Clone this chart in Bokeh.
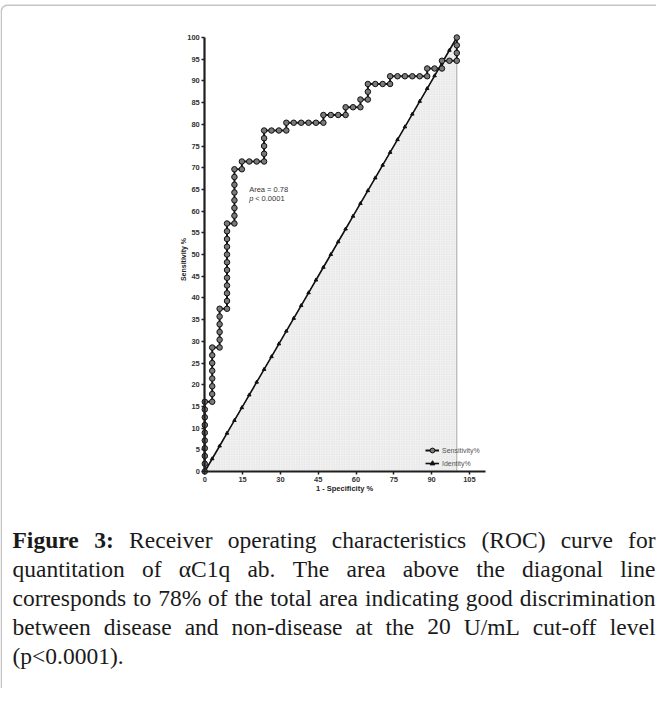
import math
from bokeh.plotting import figure
from bokeh.models import Label, BoxAnnotation, Legend, LegendItem, FixedTicker
from bokeh.embed import file_html
from bokeh.resources import INLINE

# ---------------- data ----------------
fpr = [
    0, 0, 0, 0, 0, 0, 0, 0, 0, 0,
    2.94, 2.94, 2.94, 2.94, 2.94, 2.94, 2.94, 2.94,
    5.88, 5.88, 5.88, 5.88, 5.88, 5.88,
    8.82, 8.82, 8.82, 8.82, 8.82, 8.82, 8.82, 8.82, 8.82, 8.82, 8.82, 8.82,
    11.76, 11.76, 11.76, 11.76, 11.76, 11.76, 11.76, 11.76,
    14.71, 14.71,
    17.65, 20.59, 23.53, 23.53, 23.53, 23.53, 23.53,
    26.47, 29.41, 32.35, 32.35,
    35.29, 38.24, 41.18, 44.12, 47.06, 47.06,
    50.00, 52.94, 55.88, 55.88,
    58.82, 61.76, 61.76,
    64.71, 64.71, 64.71,
    67.65, 70.59, 73.53, 73.53,
    76.47, 79.41, 82.35, 85.29, 88.24, 88.24,
    91.18, 94.12, 94.12,
    97.06, 100, 100, 100, 100,
]
sensitivity = [
    0, 1.79, 3.57, 5.36, 7.14, 8.93, 10.71, 12.50, 14.29, 16.07,
    16.07, 17.86, 19.64, 21.43, 23.21, 25.00, 26.79, 28.57,
    28.57, 30.36, 32.14, 33.93, 35.71, 37.50,
    37.50, 39.29, 41.07, 42.86, 44.64, 46.43, 48.21, 50.00, 51.79, 53.57, 55.36, 57.14,
    57.14, 58.93, 60.71, 62.50, 64.29, 66.07, 67.86, 69.64,
    69.64, 71.43,
    71.43, 71.43, 71.43, 73.21, 75.00, 76.79, 78.57,
    78.57, 78.57, 78.57, 80.36,
    80.36, 80.36, 80.36, 80.36, 80.36, 82.14,
    82.14, 82.14, 82.14, 83.93,
    83.93, 83.93, 85.71,
    85.71, 87.50, 89.29,
    89.29, 89.29, 89.29, 91.07,
    91.07, 91.07, 91.07, 91.07, 91.07, 92.86,
    92.86, 92.86, 94.64,
    94.64, 94.64, 96.43, 98.21, 100,
]
identity = [0, 2.94, 5.88, 8.82, 11.76, 14.71, 17.65, 20.59, 23.53, 26.47, 29.41,
            32.35, 35.29, 38.24, 41.18, 44.12, 47.06, 50, 52.94, 55.88, 58.82,
            61.76, 64.71, 67.65, 70.59, 73.53, 76.47, 79.41, 82.35, 85.29, 88.24,
            91.18, 94.12, 97.06, 100]
shade_x = [0, 100, 100]
shade_y = [0, 100, 0]
x_ticks = [0, 15, 30, 45, 60, 75, 90, 105]
y_ticks = [0, 5, 10, 15, 20, 25, 30, 35, 40, 45, 50, 55, 60, 65, 70, 75, 80, 85, 90, 95, 100]
series_labels = ["Sensitivity%", "Identity%"]
x_title = "1 - Specificity %"
y_title = "Sensitivity %"
area_text = "Area = 0.78"
p_label = "p"
p_value_text = "< 0.0001"
caption_lines = [
    [("Figure", True), ("3:", True), ("Receiver", False), ("operating", False),
     ("characteristics", False), ("(ROC)", False), ("curve", False), ("for", False)],
    [(w, False) for w in "quantitation of αC1q ab. The area above the diagonal line".split()],
    [(w, False) for w in "corresponds to 78% of the total area indicating good discrimination".split()],
    [(w, False) for w in "between disease and non-disease at the 20 U/mL cut-off level".split()],
    [(w, False) for w in "(p<0.0001).".split()],
]

# ---------------- layout (pixels on the canvas) ----------------
W, H = 656, 688
ORIGIN_X, ORIGIN_Y = 204.3, 217.0      # canvas px of data (0,0), y from bottom
PX_X, PX_Y = 2.52, 4.34               # px per data unit
x_start = -ORIGIN_X / PX_X
y_start = -ORIGIN_Y / PX_Y

p = figure(width=W, height=H, output_backend="svg", toolbar_location=None,
           x_range=(x_start, x_start + W / PX_X), y_range=(y_start, y_start + H / PX_Y),
           min_border=0)
p.grid.visible = False
p.outline_line_color = None
p.background_fill_color = "white"
p.border_fill_color = "white"

# shaded area under diagonal
p.patch(shade_x, shade_y, fill_color="#f1f1f1", line_color="#a8a8a8", line_width=1,
        hatch_pattern="dot", hatch_color="#dadada", hatch_scale=2.5, hatch_weight=0.7)

id_line = p.line(identity, identity, line_color="#111111", line_width=1.6)
id_pts = p.scatter(identity, identity, marker="triangle", size=3.5,
                   fill_color="#111111", line_color="#111111")
roc_line = p.line(fpr, sensitivity, line_color="#111111", line_width=2.0)
roc_pts = p.scatter(fpr, sensitivity, marker="circle", size=5.5,
                    fill_color="#7a7a7a", line_color="#111111", line_width=1.0)

# axes
for ax, ticks, bounds in ((p.xaxis[0], x_ticks, (0, 111.5)), (p.yaxis[0], y_ticks, (0, 100))):
    ax.fixed_location = 0
    ax.bounds = bounds
    ax.ticker = FixedTicker(ticks=ticks)
    ax.minor_tick_line_color = None
    ax.axis_line_width = 2.2
    ax.axis_line_color = "#1e1e1e"
    ax.major_tick_line_width = 1.5
    ax.major_tick_line_color = "#1e1e1e"
    ax.major_tick_out = 3
    ax.major_tick_in = 0
    ax.major_label_standoff = 2
    ax.major_label_text_font = "Liberation Sans"
    ax.major_label_text_font_style = "bold"
    ax.major_label_text_font_size = "7.5px"
    ax.major_label_text_color = "#333333"

# axis titles (canvas coords)
p.add_layout(Label(x=344, y=488, x_units="canvas", y_units="canvas", text=x_title,
                   text_align="center", text_baseline="middle",
                   text_font="Liberation Sans", text_font_style="bold",
                   text_font_size="7.5px", text_color="#222222"))
p.add_layout(Label(x=183, y=259, x_units="canvas", y_units="canvas", text=y_title,
                   angle=math.pi / 2, text_align="center", text_baseline="middle",
                   text_font="Liberation Sans", text_font_style="bold",
                   text_font_size="7px", text_color="#222222"))

# area annotation
p.add_layout(Label(x=17.6, y=65.0, text=area_text, text_font="Liberation Sans",
                   text_font_size="7.5px", text_color="#333333", text_baseline="alphabetic"))
p.add_layout(Label(x=17.6, y=62.9, text=p_label, text_font="Liberation Sans",
                   text_font_style="italic", text_font_size="7.5px",
                   text_color="#333333", text_baseline="alphabetic"))
p.add_layout(Label(x=17.6, y=62.9, x_offset=6, text=p_value_text, text_font="Liberation Sans",
                   text_font_size="7.5px", text_color="#333333", text_baseline="alphabetic"))

# legend
legend = Legend(items=[LegendItem(label=series_labels[0], renderers=[roc_line, roc_pts]),
                       LegendItem(label=series_labels[1], renderers=[id_line, id_pts])],
                location=(425, 219), glyph_width=14, glyph_height=12, label_height=12,
                label_standoff=3, padding=0, spacing=1, margin=0,
                label_text_font="Liberation Sans", label_text_font_size="7px",
                label_text_color="#555555", background_fill_alpha=0,
                border_line_color=None)
p.add_layout(legend)

# outer rounded frame
p.add_layout(BoxAnnotation(left=0.75, right=W + 40, top=4.75, bottom=H + 40,
                           left_units="canvas", right_units="canvas",
                           top_units="canvas", bottom_units="canvas",
                           fill_alpha=0, line_color="#3a3a3a", line_width=1.5,
                           border_radius=6, level="overlay"))

# caption with justified lines
REG = {' ': 250, 'a': 444, 'b': 500, 'c': 444, 'd': 500, 'e': 444, 'f': 333, 'g': 500,
       'h': 500, 'i': 278, 'j': 278, 'k': 500, 'l': 278, 'm': 778, 'n': 500, 'o': 500,
       'p': 500, 'q': 500, 'r': 333, 's': 389, 't': 278, 'u': 500, 'v': 500, 'w': 722,
       'x': 500, 'y': 500, 'z': 444, 'A': 722, 'B': 667, 'C': 667, 'D': 722, 'E': 611,
       'F': 556, 'G': 722, 'H': 722, 'I': 333, 'L': 611, 'M': 889, 'N': 722, 'O': 722,
       'P': 556, 'R': 667, 'S': 556, 'T': 611, 'U': 722, '(': 333, ')': 333, '.': 250,
       ',': 250, ':': 278, '%': 833, '/': 278, '-': 333, '<': 564, 'α': 520}
BOLD = {'F': 611, 'i': 278, 'g': 500, 'u': 556, 'r': 444, 'e': 444, ':': 333}
FS = 23.5

def wwidth(word, bold):
    tot = 0
    for ch in word:
        if ch.isdigit():
            tot += 500
        elif bold and ch in BOLD:
            tot += BOLD[ch]
        else:
            tot += REG.get(ch, 500)
    return tot / 1000 * FS

x0, x1 = 12, 655
baselines = [539, 568, 597, 626, 655]
for li, (words, yb) in enumerate(zip(caption_lines, baselines)):
    widths = [wwidth(w, b) for w, b in words]
    justify = li < len(caption_lines) - 1 and len(words) > 1
    gap = (x1 - x0 - sum(widths)) / (len(words) - 1) if justify else FS * 0.25
    x = x0
    for k, ((w, b), wd) in enumerate(zip(words, widths)):
        last = justify and k == len(words) - 1
        p.add_layout(Label(x=x1 if last else x, y=yb, x_units="canvas", y_units="canvas",
                           text=w, text_align="right" if last else "left",
                           text_baseline="alphabetic", text_font="Liberation Serif",
                           text_font_style="bold" if b else "normal",
                           text_font_size=f"{FS}px", text_color="#1a1a1a"))
        x += wd + gap

open("out.html", "w").write(file_html(p, INLINE))
